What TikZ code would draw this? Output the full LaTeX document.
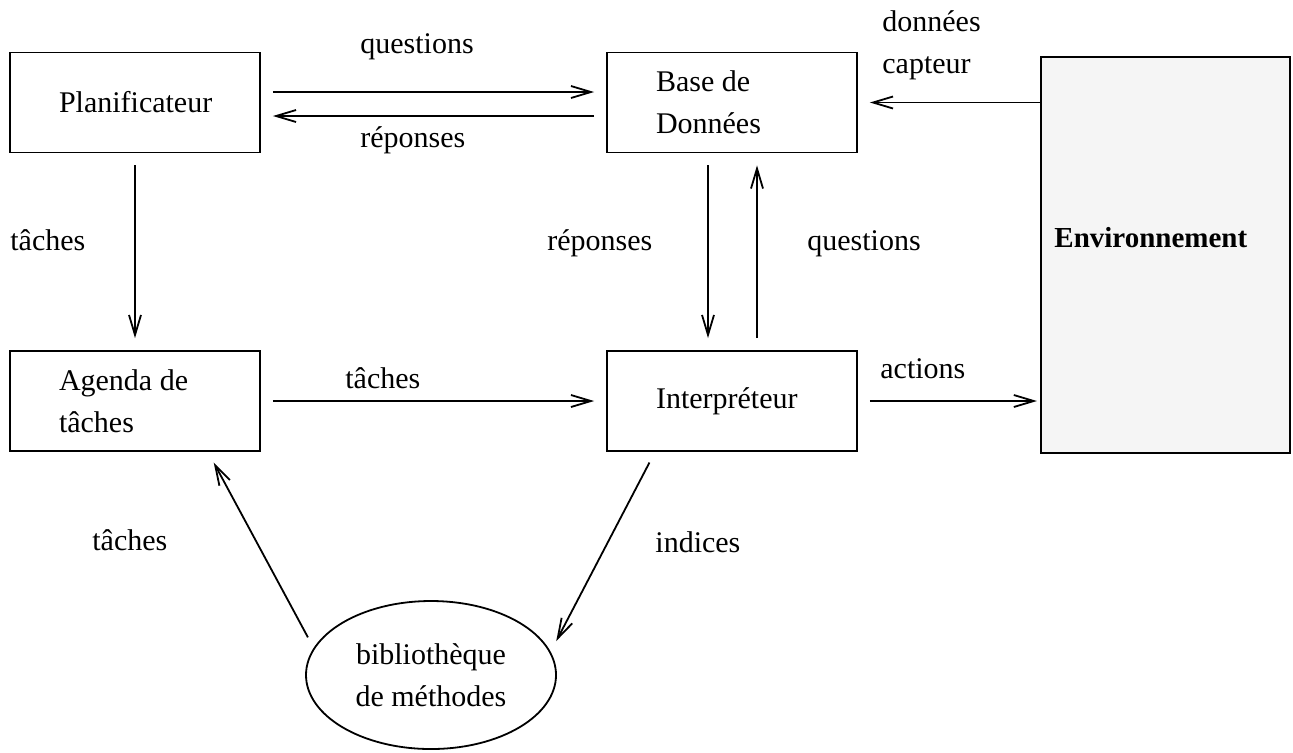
\documentclass[tikz,border=0pt]{standalone}
\usepackage{fontspec}
\setmainfont{Liberation Serif}
\usepackage{tikz}
\usepackage{xcolor}
\usetikzlibrary{shapes.geometric,arrows.meta}

\hyphenpenalty=10000
\newcommand{\txtfig}{\fontsize{15}{21}\selectfont}

\tikzset{
  boite/.style={draw, line width=0.9pt, rectangle, minimum width=125pt, minimum height=50pt,
    text width=76pt, inner xsep=24.5pt, inner ysep=0pt, align=left, font=\txtfig,
    execute at begin node={\spaceskip=0pt\relax}},
  fleche/.style={line width=0.9pt, -{Straight Barb[length=10pt,width=6pt]},
    shorten <=6pt, shorten >=6pt},
  etiq/.style={font=\txtfig, inner sep=0pt, anchor=base west},
}

\begin{document}
\begin{tikzpicture}[x=0.5pt, y=-0.5pt]
  \useasboundingbox (0,0) rectangle (1293,752);

  % Boxes
  \node[boite] (plan) at (135,102.5) {Planificateur};
  \node[boite] (base) at (732,102.5) {Base de\\Données};
  \node[boite] (agenda) at (135,401) {Agenda de\\tâches};
  \node[boite] (interp) at (732,401) {Interpréteur};
  \node[draw, line width=1.1pt, fill=black!4, minimum width=124.5pt, minimum height=198pt,
    inner sep=0pt] (env) at (1165.5,255) {};
  \node[etiq, font=\fontsize{14.5}{17}\selectfont\bfseries] (lenv) at (1054,247) {Environnement};
  \node[draw, ellipse, line width=0.9pt, minimum width=125pt, minimum height=74pt,
    inner sep=0pt, align=center, font=\txtfig] (biblio) at (431,675) {bibliothèque\\de méthodes};

  % Arrows
  \draw[fleche] ([yshift=5.25pt]plan.east) -- ([yshift=5.25pt]base.west);
  \draw[fleche] ([yshift=-6.75pt]base.west) -- ([yshift=-6.75pt]plan.east);
  \draw[fleche, shorten <=0pt] (env.west |- base.east) -- (base.east);
  \draw[fleche] (plan.south) -- (agenda.north);
  \draw[fleche] ([xshift=-12pt]base.south) -- ([xshift=-12pt]interp.north);
  \draw[fleche] ([xshift=12.5pt]interp.north) -- ([xshift=12.5pt]base.south);
  \draw[fleche] (agenda.east) -- (interp.west);
  \draw[fleche, shorten >=1.5pt] (interp.east) -- (interp.east -| env.west);
  \draw[fleche] ([xshift=-38.5pt]interp.south) -- (biblio.11);
  \draw[fleche] (biblio.167) -- ([xshift=36.5pt]agenda.south);

  % Labels
  \node[etiq] (lq1) at (360,53) {questions};
  \node[etiq] (lr1) at (360,147) {réponses};
  \node[etiq, anchor=north west, align=left] (lcapt) at (882,10) {données\\capteur};
  \node[etiq] (lt1) at (10,250) {tâches};
  \node[etiq] (lr2) at (547,250) {réponses};
  \node[etiq] (lq2) at (807,250) {questions};
  \node[etiq] (lt2) at (345,388) {tâches};
  \node[etiq] (lact) at (880,378) {actions};
  \node[etiq] (lt3) at (92,550) {tâches};
  \node[etiq] (lind) at (655,552) {indices};
\end{tikzpicture}
\end{document}
